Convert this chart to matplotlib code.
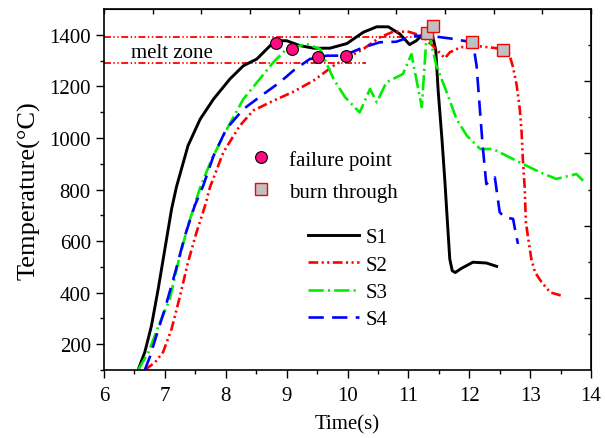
import numpy as np
import matplotlib
matplotlib.use("Agg")
import matplotlib.pyplot as plt

plt.rcParams['font.family'] = ['Liberation Serif', 'DejaVu Serif']
plt.rcParams['lines.scale_dashes'] = False

# S1 - black solid
x1 = [6.56, 6.67, 6.78, 6.89, 7.00, 7.11, 7.19, 7.38, 7.58, 7.80, 8.07, 8.29, 8.51, 8.73,
      8.81, 9.00, 9.22, 9.44, 9.71, 9.99, 10.26, 10.48, 10.67, 10.86, 11.02, 11.13, 11.30,
      11.38, 11.45, 11.49, 11.55, 11.60, 11.65, 11.68, 11.72, 11.77, 11.87, 12.06, 12.28, 12.45]
y1 = [100, 169, 272, 414, 569, 724, 810, 970, 1073, 1151, 1229, 1280, 1306, 1358,
      1377, 1377, 1358, 1348, 1348, 1366, 1410, 1431, 1431, 1403, 1362, 1377, 1416,
      1415, 1340, 1180, 1000, 830, 640, 530, 485, 478, 494, 518, 515, 502]

# S2 - red dash dot dot
x2 = [6.67, 6.84, 6.97, 7.11, 7.25, 7.38, 7.52, 7.66, 7.74, 7.96, 8.23, 8.45, 8.78, 9.11,
      9.44, 9.77, 10.04, 10.26, 10.53, 10.75, 11.00, 11.22, 11.43, 11.60, 11.68, 11.85,
      12.06, 12.34, 12.56, 12.65, 12.72, 12.78, 12.83, 12.86, 12.88, 12.91, 12.93, 12.97,
      13.02, 13.08, 13.19, 13.33, 13.55]
y2 = [100, 130, 169, 259, 388, 518, 634, 737, 808, 944, 1047, 1106, 1144, 1179,
      1222, 1280, 1316, 1345, 1390, 1412, 1412, 1396, 1351, 1309, 1332, 1351,
      1358, 1351, 1345, 1330, 1274, 1203, 1112, 1022, 918, 808, 673, 608,
      530, 479, 440, 401, 386]

# S3 - green dash dot
x3 = [6.56, 6.73, 6.92, 7.08, 7.22, 7.38, 7.58, 7.77, 7.99, 8.29, 8.56, 8.78, 9.00, 9.33,
      9.55, 9.77, 9.96, 10.20, 10.37, 10.48, 10.64, 10.91, 11.05, 11.22, 11.30, 11.36,
      11.46, 11.63, 11.79, 11.96, 12.18, 12.39, 12.61, 12.88, 13.16, 13.43, 13.76, 13.87]
y3 = [100, 169, 285, 375, 518, 660, 808, 918, 1022, 1151, 1229, 1293, 1345, 1364,
      1345, 1229, 1158, 1099, 1190, 1138, 1216, 1248, 1325, 1120, 1400, 1380,
      1280, 1177, 1073, 1009, 957, 957, 931, 899, 867, 841, 860, 834]

# S4 - blue dashed
x4 = [6.67, 6.76, 6.86, 7.00, 7.17, 7.33, 7.49, 7.63, 7.80, 8.01, 8.29, 8.62, 8.89, 9.11,
      9.38, 9.66, 9.93, 10.26, 10.53, 10.80, 11.08, 11.35, 11.68, 11.90, 12.06, 12.12,
      12.17, 12.22, 12.28, 12.42, 12.50, 12.58, 12.72, 12.75, 12.80]
y4 = [100, 155, 233, 337, 479, 621, 737, 815, 931, 1035, 1112, 1170, 1216, 1261,
      1306, 1319, 1319, 1351, 1371, 1373, 1396, 1396, 1386, 1377, 1371, 1280,
      1125, 970, 821, 847, 712, 692, 686, 647, 589]

# failure points and burn through points
fail_x = [8.82, 9.08, 9.52, 9.98]
fail_y = [1368, 1345, 1312, 1316]
burn_x = [11.30, 11.40, 12.04, 12.56]
burn_y = [1407, 1435, 1373, 1340]

# melt zone limits
melt_lo, melt_hi = 1290, 1390
melt_lo_end, melt_hi_end = 10.3, 11.3

fig = plt.figure(figsize=(6.05, 4.39), dpi=100)
ax = fig.add_axes([0.1719, 0.1549, 0.8050, 0.8223])

ls_s2 = (0, (7, 2.5, 1.5, 2.5, 1.5, 2.5))
ls_s3 = (0, (11, 3, 1.5, 3))
ls_s4 = (0, (11, 6))
ls_melt = (0, (5, 1.8, 1, 1.8, 1, 1.8))

ax.hlines(melt_hi, 6, melt_hi_end, colors='red', lw=1.3, linestyles=[ls_melt])
ax.hlines(melt_lo, 6, melt_lo_end, colors='red', lw=1.3, linestyles=[ls_melt])
ax.text(6.45, 1332, 'melt zone', fontsize=15, va='center', ha='left')

l1, = ax.plot(x1, y1, color='black', lw=2.1, label='S1')
l2, = ax.plot(x2, y2, color='red', lw=1.9, ls=ls_s2, label='S2')
l3, = ax.plot(x3, y3, color='#00ee00', lw=1.9, ls=ls_s3, label='S3')
l4, = ax.plot(x4, y4, color='blue', lw=1.9, ls=ls_s4, label='S4')

m1, = ax.plot(fail_x, fail_y, 'o', ms=8.5, mfc='#ff0a80', mec='black', mew=0.8,
              label='failure point', zorder=5)
m2, = ax.plot(burn_x, burn_y, 's', ms=8, mfc='#c0c0c0', mec='red', mew=1.0,
              label='burn through', zorder=5)

ax.set_xlim(6, 14)
ax.set_ylim(100, 1500)
ax.set_xticks(np.arange(6, 15, 1))
ax.set_xticks(np.arange(6.5, 14, 1), minor=True)
ax.set_yticks(np.arange(200, 1401, 200))
ax.set_yticks(np.arange(100, 1500, 200), minor=True)
ax.tick_params(which='major', direction='out', length=6, width=1, labelsize=15)
ax.tick_params(axis='x', which='major', pad=5.5)
ax.tick_params(which='minor', direction='out', length=3, width=1)
for s in ax.spines.values():
    s.set_linewidth(1.2)

# top / right axes with their own inward ticks
top = ax.secondary_xaxis('top')
top.set_xticks(np.linspace(6, 14, 11))
top.tick_params(direction='in', length=3.5, width=1, labeltop=False)
right = ax.secondary_yaxis('right')
right.set_yticks(np.arange(380, 1500, 280))
right.set_yticks(np.arange(240, 1500, 280), minor=True)
right.tick_params(which='major', direction='in', length=5, width=1, labelright=False)
right.tick_params(which='minor', direction='in', length=2.5, width=1)

ax.set_xlabel('Time(s)', fontsize=15, labelpad=7)
ax.set_ylabel('Temperature(°C)', fontsize=19, labelpad=6)

leg1 = ax.legend(handles=[m1, m2], loc='upper left', bbox_to_anchor=(0.302, 0.61),
                 frameon=False, fontsize=15, handlelength=1.0, handletextpad=0.8,
                 labelspacing=0.6, borderpad=0, borderaxespad=0)
ax.add_artist(leg1)
ax.legend(handles=[l1, l2, l3, l4], loc='upper left', bbox_to_anchor=(0.4195, 0.394),
          frameon=False, fontsize=15, handlelength=2.45, handletextpad=0.3,
          labelspacing=0.37, borderpad=0, borderaxespad=0)

fig.savefig('out.png', dpi=100)
